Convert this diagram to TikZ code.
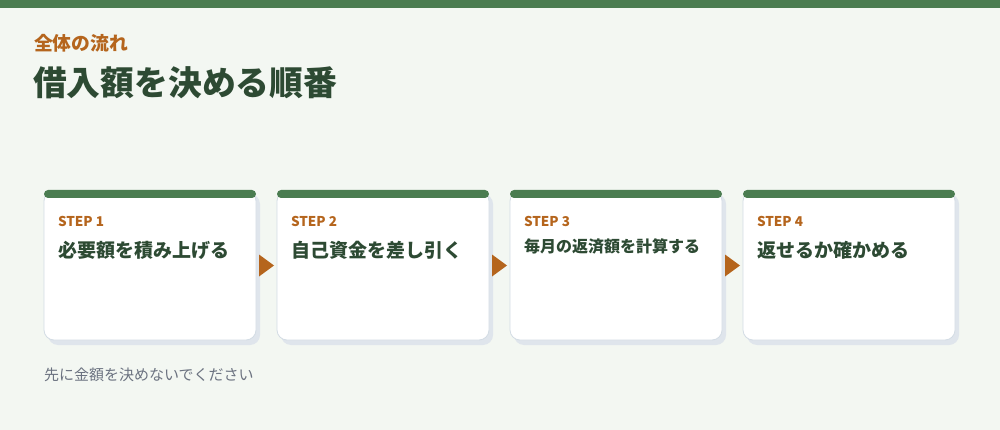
\documentclass[tikz,border=0pt]{standalone}
\usepackage{fontspec}
\setmainfont{Noto Sans CJK JP}
\newfontfamily\jp{Noto Sans CJK JP}
\definecolor{bggreen}{HTML}{F3F7F2}
\definecolor{topgreen}{HTML}{4A7C50}
\definecolor{accent}{HTML}{B5651D}
\definecolor{darktext}{HTML}{2D4A33}
\definecolor{shadowc}{HTML}{DFE5EC}
\definecolor{borderc}{HTML}{D3DCE4}
\definecolor{footgray}{HTML}{6B7280}
\tikzset{
  px/.style={x=1pt,y=-1pt},
  txt/.style={anchor=west,inner sep=0pt,outer sep=0pt},
  steplabel/.style={txt,text=accent,font=\jp\bfseries\fontsize{13.5}{14}\selectfont},
  steptitle/.style={txt,text=darktext,font=\jp\bfseries\fontsize{19}{22}\selectfont},
  arrowtri/.style={fill=accent,draw=none},
}
\begin{document}
\begin{tikzpicture}[px]
\useasboundingbox (0,0) rectangle (1000,430);
\fill[bggreen] (0,0) rectangle (1000,430);
\fill[topgreen] (0,0) rectangle (1000,8);
\node[txt,text=accent,font=\jp\bfseries\fontsize{18.8}{20}\selectfont] (kicker) at (34,43) {全体の流れ};
\node[txt,text=darktext,font=\jp\bfseries\fontsize{33.8}{36}\selectfont] (title) at (33,83) {借入額を決める順番};
\foreach \i/\x in {1/44,2/277,3/510,4/743}{
  \fill[shadowc,rounded corners=10pt] (\x+4,194) rectangle (\x+216,345);
  \filldraw[fill=white,draw=borderc,line width=0.8pt,rounded corners=10pt] (\x,191) rectangle (\x+212,340);
  \fill[topgreen,rounded corners=4pt] (\x,190) rectangle (\x+212,198);
  \coordinate (card\i) at (\x,190);
}
\node[steplabel] (s1) at (58,221) {STEP 1};
\node[steplabel] (s2) at (291,221) {STEP 2};
\node[steplabel] (s3) at (524,221) {STEP 3};
\node[steplabel] (s4) at (757,221) {STEP 4};
\node[steptitle] (t1) at (58,250) {必要額を積み上げる};
\node[steptitle] (t2) at (291,250) {自己資金を差し引く};
\node[txt,text=darktext,font=\jp\bfseries\fontsize{16}{18}\selectfont] (t3) at (524,246) {毎月の返済額を計算する};
\node[steptitle] (t4) at (757,250) {返せるか確かめる};
\foreach \x in {259,492,725}{
  \fill[accent] (\x,254.5) -- (\x+15,265.5) -- (\x,276.5) -- cycle;
}
\node[txt,text=footgray,font=\jp\fontsize{15}{16}\selectfont] (foot) at (44,375) {先に金額を決めないでください};
\end{tikzpicture}
\end{document}
